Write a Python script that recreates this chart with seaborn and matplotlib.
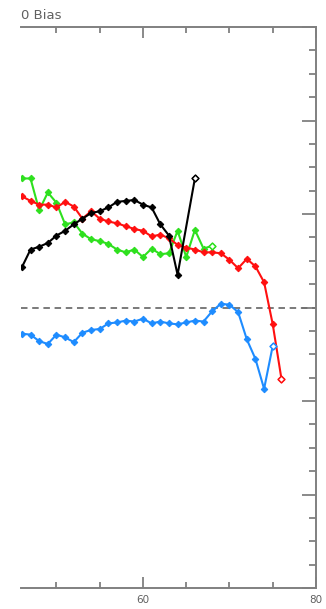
import matplotlib
matplotlib.use("Agg")
import matplotlib.pyplot as plt
from matplotlib.ticker import MultipleLocator
import pandas as pd
import seaborn as sns

sns.set_theme(style="white")
plt.rcParams['font.family'] = ['DejaVu Sans']

# Forecast lead / bias series
black_x = [46, 47, 48, 49, 50, 51, 52, 53, 54, 55, 56, 57, 58, 59, 60, 61, 62, 63, 64, 66]
black_y = [0.43, 0.62, 0.65, 0.69, 0.77, 0.82, 0.89, 0.95, 1.01, 1.03, 1.07, 1.13, 1.14, 1.15, 1.10, 1.07, 0.89, 0.77, 0.35, 1.38]

red_x = [46, 47, 48, 49, 50, 51, 52, 53, 54, 55, 56, 57, 58, 59, 60, 61, 62,
         63, 64, 65, 66, 67, 68, 69, 70, 71, 72, 73, 74, 75, 76]
red_y = [1.19, 1.14, 1.10, 1.10, 1.07, 1.13, 1.08, 0.95, 1.03, 0.95, 0.92, 0.90, 0.87, 0.84, 0.82, 0.76, 0.78,
         0.74, 0.67, 0.64, 0.62, 0.59, 0.59, 0.58, 0.51, 0.42, 0.52, 0.44, 0.27, -0.18, -0.76]

green_x = [46, 47, 48, 49, 50, 51, 52, 53, 54, 55, 56, 57, 58, 59, 60, 61, 62, 63, 64, 65, 66, 67, 68]
green_y = [1.38, 1.38, 1.04, 1.23, 1.12, 0.89, 0.91, 0.79, 0.73, 0.71, 0.68, 0.62, 0.59, 0.62, 0.54, 0.63, 0.57,
           0.58, 0.82, 0.54, 0.83, 0.63, 0.66]

blue_x = [46, 47, 48, 49, 50, 51, 52, 53, 54, 55, 56, 57, 58, 59, 60, 61, 62,
          63, 64, 65, 66, 67, 68, 69, 70, 71, 72, 73, 74, 75]
blue_y = [-0.28, -0.29, -0.36, -0.39, -0.29, -0.32, -0.37, -0.27, -0.24, -0.23, -0.17, -0.16, -0.14, -0.15, -0.12, -0.17, -0.15,
          -0.17, -0.18, -0.16, -0.14, -0.15, -0.04, 0.04, 0.03, -0.05, -0.34, -0.55, -0.87, -0.41]

x_tick_labels = ["60", "80"]
title = "0 Bias"

series = [
    (green_x, green_y, "#2ee01e"),
    (red_x, red_y, "#ff1010"),
    (black_x, black_y, "#000000"),
    (blue_x, blue_y, "#1e8cff"),
]

fig = plt.figure(figsize=(3.26, 6.09), dpi=100)
W, H = 326, 609
ax = fig.add_axes([21 / W, 21 / H, (316 - 21) / W, (588 - 27) / H])

spine_col = "#808080"
ax.axhline(0, color="#707070", lw=1.3, ls=(0, (3.6, 2.6)), zorder=1)

for xs, ys, col in series:
    df = pd.DataFrame({"x": xs, "y": ys})
    sns.lineplot(data=df, x="x", y="y", ax=ax, color=col, lw=1.5, sort=False,
                 marker="D", markersize=3.3, markeredgecolor=col, markerfacecolor=col,
                 zorder=3)
    last = df.iloc[[-1]]
    sns.scatterplot(data=last, x="x", y="y", ax=ax, marker="D", s=12,
                    facecolor="white", edgecolor=col, linewidth=1.1, zorder=4)

ax.set_xlim(45.9, 80)
ax.set_ylim(-3, 3)
ax.xaxis.set_major_locator(MultipleLocator(20))
ax.xaxis.set_minor_locator(MultipleLocator(5))
ax.yaxis.set_major_locator(MultipleLocator(1))
ax.yaxis.set_minor_locator(MultipleLocator(0.25))
ax.set_xticks([60, 80])
ax.set_xticklabels(x_tick_labels)

ax.tick_params(axis="x", which="both", direction="in", top=True, bottom=True,
               color=spine_col, width=1.3, labelcolor="#606060", labelsize=7.5, pad=5)
ax.tick_params(axis="x", which="major", length=8)
ax.tick_params(axis="x", which="minor", length=4)
ax.tick_params(axis="y", which="both", direction="in", left=False, right=True,
               labelleft=False, labelright=False, color=spine_col, width=1.3)
ax.tick_params(axis="y", which="major", length=10)
ax.tick_params(axis="y", which="minor", length=5)

for side in ["top", "right", "bottom"]:
    ax.spines[side].set_color(spine_col)
    ax.spines[side].set_linewidth(1.4)
ax.spines["left"].set_visible(False)
ax.set_xlabel("")
ax.set_ylabel("")
ax.grid(False)

fig.text(21 / W, 1 - 19 / H, title, color="#606060", fontsize=9.5, ha="left", va="baseline")

fig.savefig("out.png", dpi=100)
